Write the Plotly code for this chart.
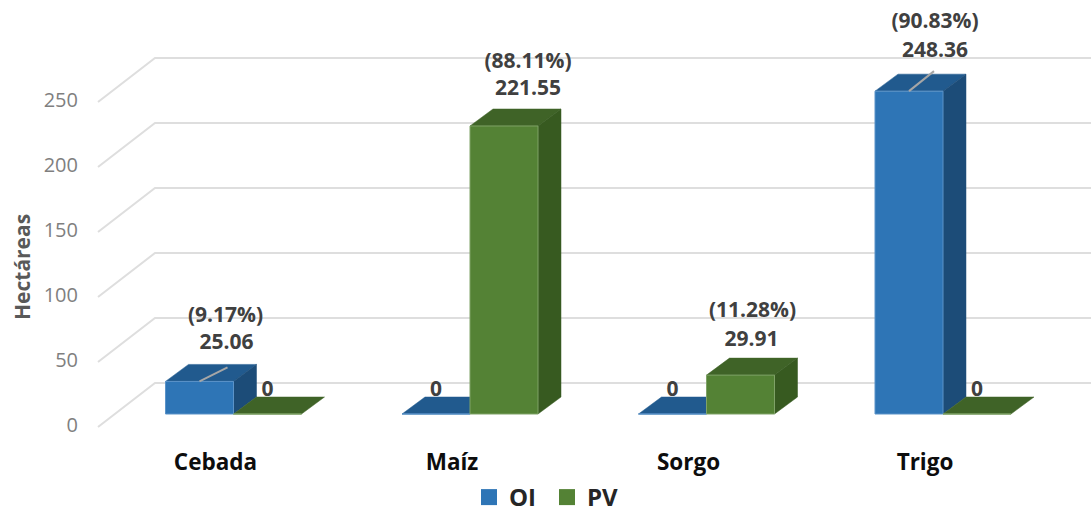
import plotly.graph_objects as go

# ---- data ----
categories = ["Cebada", "Maíz", "Sorgo", "Trigo"]
oi_values = [25.06, 0, 0, 248.36]
pv_values = [0, 221.55, 29.91, 0]
oi_percent = ["(9.17%)", None, None, "(90.83%)"]
pv_percent = [None, "(88.11%)", "(11.28%)", None]
y_ticks = [0, 50, 100, 150, 200, 250]

# ---- scale helpers (pixels per data unit) ----
W, H = 1091, 514
PX_X = 236.5
PX_Y = 1.3
ORIGIN_X, ORIGIN_Y = 233.5, 414
ux = lambda px: px / PX_X
uy = lambda px: px / PX_Y
x_range = [-ORIGIN_X / PX_X, (W - ORIGIN_X) / PX_X]
y_range = [(ORIGIN_Y - H) / PX_Y, ORIGIN_Y / PX_Y]

BAR_W = ux(68)
DX, DY = ux(23), uy(17)

FONT = "Open Sans"
BLUE = dict(front="#2E75B6", top="#215A8E", side="#1C4C78", edge="#5B93C8")
GREEN = dict(front="#548235", top="#3F6327", side="#375A20", edge="#7FA267")

fig = go.Figure()


def face(xs, ys, color):
    fig.add_trace(go.Scatter(x=xs, y=ys, mode="lines", fill="toself", fillcolor=color,
                             line=dict(color=color, width=0.5), showlegend=False,
                             hoverinfo="skip", xaxis="x", yaxis="y"))


# gridlines: front edge of the floor, back wall, running to the right
for t in y_ticks:
    v = t - uy(13)
    fig.add_trace(go.Scatter(
        x=[ux(98 - ORIGIN_X), ux(155 - ORIGIN_X), x_range[1]],
        y=[v, v + uy(44), v + uy(44)],
        mode="lines", line=dict(color="#DEDEDE", width=2),
        showlegend=False, hoverinfo="skip", xaxis="x", yaxis="y"))

# top and side faces of the bars
for values, sign, pal in ((oi_values, -1, BLUE), (pv_values, 1, GREEN)):
    for i, v in enumerate(values):
        c = i + sign * BAR_W / 2
        l, r = c - BAR_W / 2, c + BAR_W / 2
        face([l, r, r + DX, l + DX, l], [v, v, v + DY, v + DY, v], pal["top"])
        if v > 0:
            face([r, r + DX, r + DX, r, r], [0, DY, v + DY, v, 0], pal["side"])

# front faces on an overlaid axis pair, so they cover the flat tops
for name, values, sign, pal in (("OI", oi_values, -1, BLUE), ("PV", pv_values, 1, GREEN)):
    fig.add_trace(go.Bar(
        x=[i + sign * BAR_W / 2 for i in range(len(categories))],
        y=values, width=BAR_W, name=name, showlegend=False,
        marker=dict(color=pal["front"], line=dict(color=pal["edge"], width=1)),
        xaxis="x2", yaxis="y2"))

# leader lines
leaders = {0: (28, 14), 3: (25, 20)}
for i, (ox, oy) in leaders.items():
    c = i - BAR_W / 2
    fig.add_trace(go.Scatter(
        x=[c, c + ux(ox)], y=[oi_values[i], oi_values[i] + uy(oy)],
        mode="lines", line=dict(color="#A6A6A6", width=2),
        showlegend=False, hoverinfo="skip", xaxis="x2", yaxis="y2"))

# data labels
label_font = dict(family=FONT, size=21, color="#404040")
label_shift = {(0, -1): (27, 38, 26, 65), (3, -1): (26, 39, 26, 68),
               (1, 1): (24, 36, 24, 63), (2, 1): (11, 34, 12, 63)}
for values, pcts, sign in ((oi_values, oi_percent, -1), (pv_values, pv_percent, 1)):
    for i, v in enumerate(values):
        c = i + sign * BAR_W / 2
        if v == 0:
            fig.add_trace(go.Scatter(x=[c], y=[uy(23)], mode="text", text=["<b>0</b>"],
                                     textfont=label_font, textposition="middle center",
                                     showlegend=False, hoverinfo="skip", xaxis="x2", yaxis="y2"))
        else:
            a, b, p, q = label_shift[(i, sign)]
            fig.add_trace(go.Scatter(x=[c + ux(a)], y=[v + uy(b)], mode="text", text=[f"<b>{v:g}</b>"],
                                     textfont=label_font, textposition="middle center",
                                     showlegend=False, hoverinfo="skip", xaxis="x2", yaxis="y2"))
            fig.add_trace(go.Scatter(x=[c + ux(p)], y=[v + uy(q)], mode="text", text=[f"<b>{pcts[i]}</b>"],
                                     textfont=label_font, textposition="middle center",
                                     showlegend=False, hoverinfo="skip", xaxis="x2", yaxis="y2"))

# legend entries
for name, pal in (("OI", BLUE), ("PV", GREEN)):
    fig.add_trace(go.Scatter(x=[None], y=[None], mode="markers", name=name,
                             marker=dict(symbol="square", size=18, color=pal["front"]),
                             xaxis="x", yaxis="y"))

fig.update_layout(
    width=W, height=H, autosize=False,
    margin=dict(l=0, r=0, t=0, b=0, autoexpand=False),
    paper_bgcolor="white", plot_bgcolor="white",
    barmode="overlay",
    xaxis=dict(range=x_range, domain=[0, 1], showgrid=False, zeroline=False, showline=False,
               tickmode="array", tickvals=list(range(len(categories))), ticktext=[f"<b>{c}</b>" for c in categories],
               tickfont=dict(family=FONT, size=22.5, color="#0D0D0D"),
               ticklabelshift=-18, ticks="", anchor="free", position=(H - 446) / H, fixedrange=True),
    yaxis=dict(range=y_range, domain=[0, 1], showgrid=False, zeroline=False, showline=False,
               tickmode="array", tickvals=y_ticks, ticktext=[str(t) for t in y_ticks],
               tickfont=dict(family=FONT, size=20, color="#7F7F7F"),
               ticklabelshift=11, ticks="", anchor="free", position=78 / W, fixedrange=True),
    xaxis2=dict(range=x_range, overlaying="x", visible=False, fixedrange=True),
    yaxis2=dict(range=y_range, overlaying="y", visible=False, fixedrange=True),
    legend=dict(orientation="h", x=469 / W, y=-6 / H, xanchor="left", yanchor="bottom",
                entrywidth=33, entrywidthmode="pixels",
                font=dict(family=FONT, size=24, color="#262626", weight="bold"),
                bgcolor="rgba(0,0,0,0)", borderwidth=0),
    annotations=[dict(text="<b>Hectáreas</b>", x=22 / W, y=(H - 267) / H, xref="paper", yref="paper",
                      xanchor="center", yanchor="middle",
                      showarrow=False, textangle=-90,
                      font=dict(family=FONT, size=21, color="#595959"))],
    showlegend=True,
)

fig.write_html("out.html", config=dict(displayModeBar=False),
               post_script="document.body.style.margin='0';document.body.style.overflow='hidden';")
